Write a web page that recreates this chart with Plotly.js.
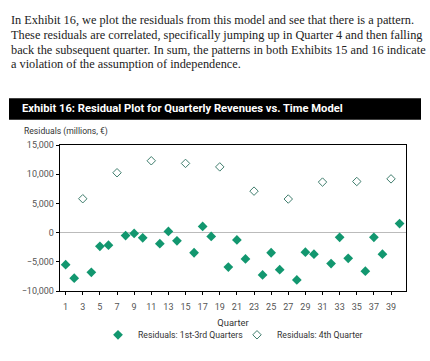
<!DOCTYPE html>
<html>
<head>
<meta charset="utf-8">
<script src="https://cdn.plot.ly/plotly-3.0.1.min.js"></script>
<style>
html,body{margin:0;padding:0;background:#fff;}
#chart{width:430px;height:361px;}
</style>
</head>
<body>
<div id="chart"></div>
<script>
// Quarters 1..40
const quarters123 = [1,2,4,5,6,8,9,10,12,13,14,16,17,18,20,21,22,24,25,26,28,29,30,32,33,34,36,37,38,40];
const resid123 = [-5500,-7800,-6800,-2350,-2150,-500,-150,-900,-1900,200,-1400,-3450,1050,-650,-5900,-1250,-4500,-7250,-3450,-6350,-8100,-3350,-3700,-5300,-800,-4400,-6600,-800,-3700,1550];
const quarters4 = [3,7,11,15,19,23,27,31,35,39];
const resid4 = [5800,10250,12300,11850,11250,7100,5750,8650,8750,9200];
const xTickVals = [1,3,5,7,9,11,13,15,17,19,21,23,25,27,29,31,33,35,37,39];
const yTickVals = [-10000,-5000,0,5000,10000,15000];

const paragraph = [
  "In Exhibit 16, we plot the residuals from this model and see that there is a pattern.",
  "These residuals are correlated, specifically jumping up in Quarter 4 and then falling",
  "back the subsequent quarter. In sum, the patterns in both Exhibits 15 and 16 indicate",
  "a violation of the assumption of independence."
];
const exhibitTitle = "Exhibit 16: Residual Plot for Quarterly Revenues vs. Time Model";
const yLabel = "Residuals (millions, €)";
const xLabel = "Quarter";
const seriesNames = ["Residuals: 1st-3rd Quarters", "Residuals: 4th Quarter"];

const W = 430, H = 361;
const M = {l:60, r:24, t:145, b:66};
const pw = W - M.l - M.r, ph = H - M.t - M.b;
const px = x => (x - M.l) / pw;
const py = y => (H - M.b - y) / ph;

const sansFont = "Roboto, 'Liberation Sans', sans-serif";
const serifFont = "'Liberation Serif', 'DejaVu Serif', serif";

const traces = [
  {
    x: quarters123, y: resid123, type: 'scatter', mode: 'markers',
    name: seriesNames[0],
    marker: {symbol: 'diamond', size: 7.5, color: '#12976f', line: {width: 0}}
  },
  {
    x: quarters4, y: resid4, type: 'scatter', mode: 'markers',
    name: seriesNames[1],
    marker: {symbol: 'diamond-open', size: 6.5, color: '#3f7d6d', line: {width: 1}}
  }
];

const annotations = paragraph.map((t, i) => ({
  text: t, xref: 'paper', yref: 'paper', x: px(9), y: py(17 + i * 15),
  xanchor: 'left', yanchor: 'middle', showarrow: false,
  font: {family: serifFont, size: 12.3, color: '#222'}
}));
annotations.push({
  text: '<b>' + exhibitTitle + '</b>', xref: 'paper', yref: 'paper',
  x: px(20), y: py(108), xanchor: 'left', yanchor: 'middle', showarrow: false,
  font: {family: sansFont, size: 11.2, color: '#fff'}
});
annotations.push({
  text: yLabel, xref: 'paper', yref: 'paper', x: px(22), y: py(131),
  xanchor: 'left', yanchor: 'middle', showarrow: false,
  font: {family: sansFont, size: 8.6, color: '#333'}
});

const layout = {
  width: W, height: H,
  margin: M,
  paper_bgcolor: '#fff', plot_bgcolor: '#fff',
  showlegend: true,
  legend: {orientation: 'h', x: px(98), xanchor: 'left', y: py(340), yanchor: 'middle',
           font: {family: sansFont, size: 8.7, color: '#333'}, itemwidth: 30,
           entrywidth: 94, entrywidthmode: 'pixels', tracegroupgap: 0},
  xaxis: {
    range: [0.34, 40.75], tickvals: xTickVals, ticks: 'outside', ticklen: 3, tickcolor: '#000',
    showline: true, mirror: true, linecolor: '#000', linewidth: 1.3, showgrid: false, zeroline: false,
    tickfont: {family: sansFont, size: 9, color: '#555'}, ticklabelstandoff: 4,
    title: {text: xLabel, font: {family: sansFont, size: 9.4, color: '#333'}, standoff: 8}
  },
  yaxis: {
    range: [-10000, 15000], tickvals: yTickVals, tickformat: ',', ticks: 'outside', ticklen: 3, tickcolor: '#000',
    showline: true, mirror: true, linecolor: '#000', linewidth: 1.3, showgrid: false,
    zeroline: true, zerolinecolor: '#bbb', zerolinewidth: 1,
    tickfont: {family: sansFont, size: 9, color: '#555'}
  },
  shapes: [{
    type: 'rect', xref: 'paper', yref: 'paper', x0: px(9), x1: px(421), y0: py(97), y1: py(119),
    fillcolor: '#000', line: {width: 0}, layer: 'below'
  }],
  annotations: annotations
};

Plotly.newPlot('chart', traces, layout, {displayModeBar: false, staticPlot: true});
</script>
</body>
</html>
